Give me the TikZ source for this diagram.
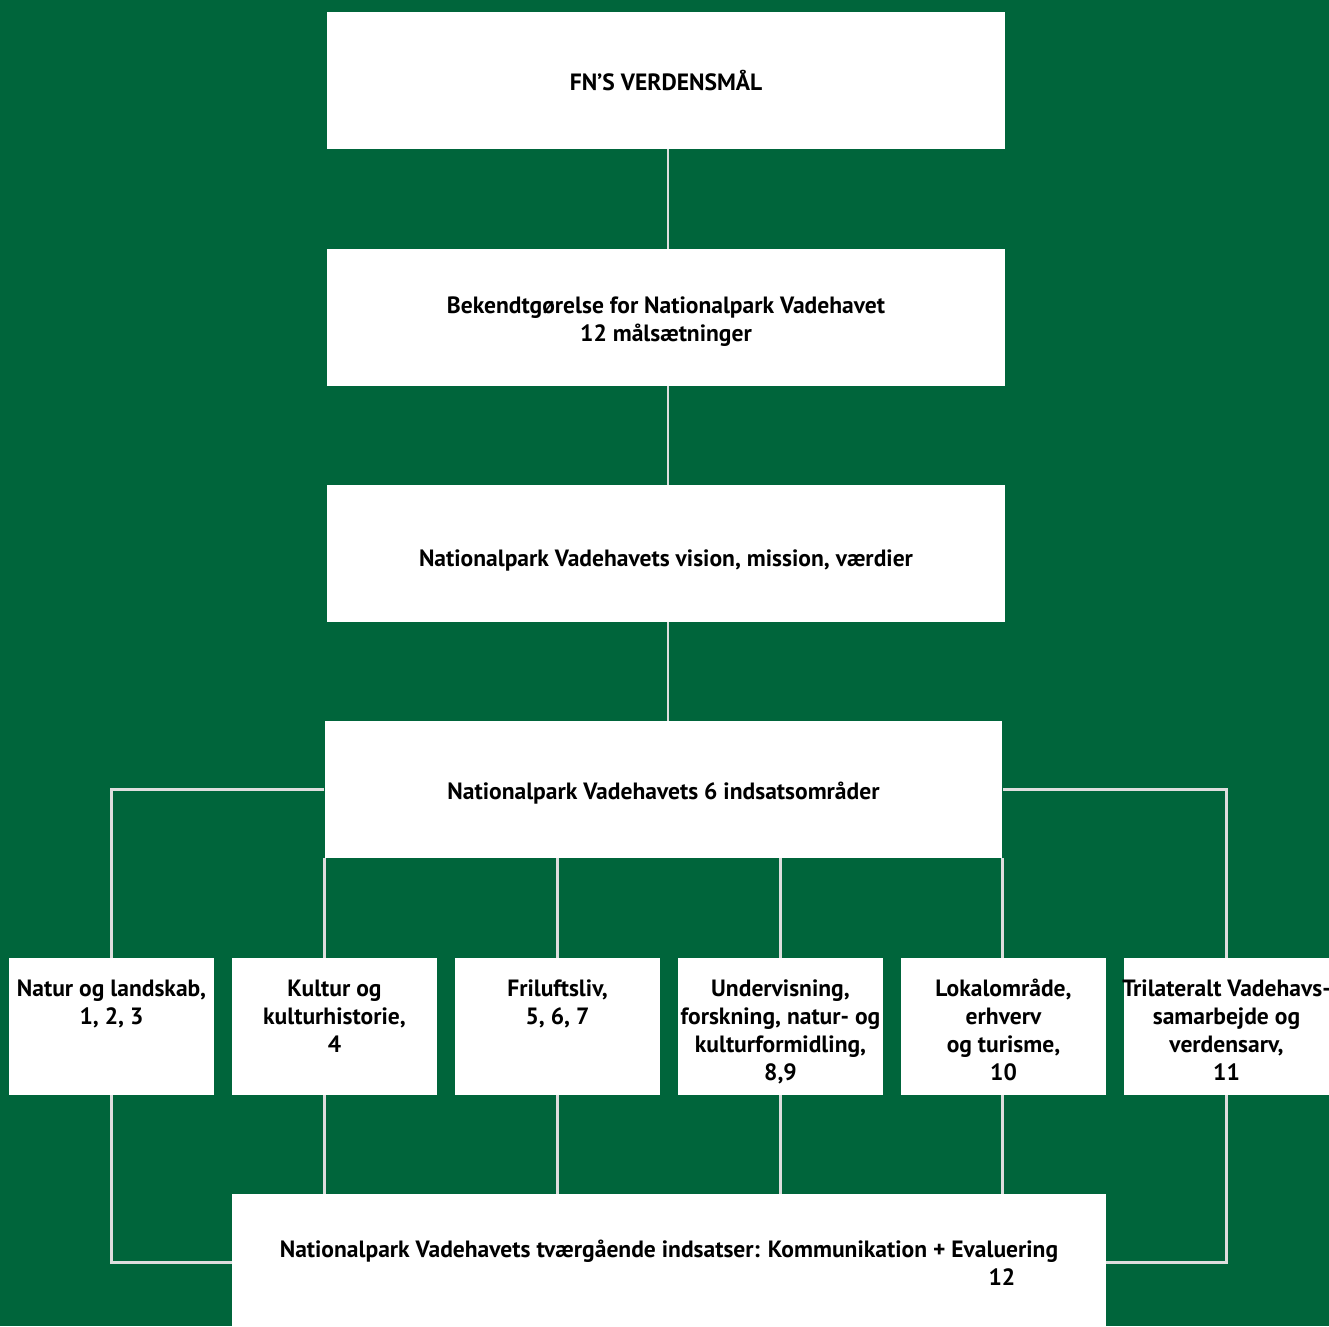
\documentclass[tikz,border=0pt]{standalone}
\usepackage{fontspec}
\setmainfont{PT Sans}
\usetikzlibrary{positioning}
\definecolor{vadegreen}{RGB}{0,101,59}
\definecolor{linegray}{RGB}{222,222,222}
\newcommand{\boxfont}{\fontsize{13.4}{15.9}\selectfont\bfseries}
\newcommand{\toptext}[1]{\parbox[c][2.73cm][t]{4.1cm}{\centering\vspace*{0.37cm}\strut #1}}

\begin{document}
\begin{tikzpicture}[x=0.02cm,y=-0.02cm,
  bigbox/.style={fill=white,minimum width=13.56cm,minimum height=2.74cm,inner sep=0pt,align=center,font=\boxfont},
  smallbox/.style={fill=white,minimum width=4.1cm,minimum height=2.73cm,inner sep=0pt,font=\boxfont},
  link/.style={draw=linegray,line width=1.5pt}]
\fill[vadegreen] (0,0) rectangle (1329,1326);
\useasboundingbox (0,0) rectangle (1329,1326);

\node[bigbox] (fn) at (666,80.5) {FN’S VERDENSMÅL};
\node[bigbox,text height=30pt] (bek) at (666,317.5) {Bekendtgørelse for Nationalpark Vadehavet\\12 målsætninger};
\node[bigbox,text height=15.1pt,text depth=0pt] (vis) at (666,553.5) {Nationalpark Vadehavets vision, mission, værdier};
\node[bigbox,text height=11.4pt,text depth=0pt] (ind) at (663.5,789.5) {Nationalpark Vadehavets 6 indsatsområder};

\node[smallbox] (natur) at (111.5,1026.5) {\toptext{Natur og landskab,\\1, 2, 3}};
\node[smallbox] (kultur) at (334.5,1026.5) {\toptext{Kultur og\\kulturhistorie,\\4}};
\node[smallbox] (fri) at (557.5,1026.5) {\toptext{Friluftsliv,\\5, 6, 7}};
\node[smallbox] (und) at (780.5,1026.5) {\toptext{Undervisning,\\forskning, natur- og\\kulturformidling,\\8,9}};
\node[smallbox] (lokal) at (1003.5,1026.5) {\toptext{Lokalområde,\\erhverv\\og turisme,\\10}};
\node[smallbox] (tri) at (1226.5,1026.5) {\toptext{\makebox[4.1cm]{Trilateralt Vadehavs-}\\samarbejde og\\verdensarv,\\11}};

\node[bigbox,minimum width=17.48cm] (tvaer) at (669,1262.5) {Nationalpark Vadehavets tværgående indsatser: Kommunikation + Evaluering\\\hspace*{13.32cm}12};

\draw[link] ([xshift=1.2pt]fn.south) -- ([xshift=1.2pt]bek.north);
\draw[link] ([xshift=1.2pt]bek.south) -- ([xshift=1.2pt]vis.north);
\draw[link] ([xshift=1.2pt]vis.south) -- ([xshift=1.2pt]vis.south |- ind.north);
\draw[link] (ind.west) -| (natur.north);
\draw[link] (ind.east) -| (tri.north);
\draw[link] (ind.south west) -- (ind.south west |- kultur.north);
\draw[link] (fri.north |- ind.south) -- (fri.north);
\draw[link] (und.north |- ind.south) -- (und.north);
\draw[link] (ind.south east) -- (ind.south east |- lokal.north);

\draw[link] (natur.south) |- (tvaer.west);
\draw[link] (tri.south) |- (tvaer.east);
\draw[link] (kultur.south -| ind.south west) -- (tvaer.north -| ind.south west);
\draw[link] (fri.south) -- (fri.south |- tvaer.north);
\draw[link] (und.south) -- (und.south |- tvaer.north);
\draw[link] (lokal.south -| ind.south east) -- (tvaer.north -| ind.south east);

\end{tikzpicture}
\end{document}
